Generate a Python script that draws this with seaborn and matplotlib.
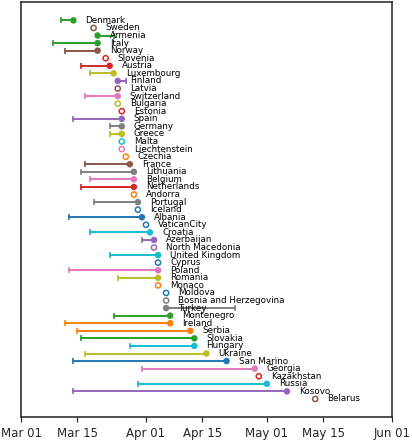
import matplotlib
matplotlib.use('Agg')
import matplotlib.pyplot as plt
import matplotlib.dates as mdates
import pandas as pd
import seaborn as sns

# countries in plotting order, first and last measure dates (None = single date only)
countries = ['Denmark', 'Sweden', 'Armenia', 'Italy', 'Norway', 'Slovenia', 'Austria',
             'Luxembourg', 'Finland', 'Latvia', 'Switzerland', 'Bulgaria', 'Estonia',
             'Spain', 'Germany', 'Greece', 'Malta', 'Liechtenstein', 'Czechia', 'France',
             'Lithuania', 'Belgium', 'Netherlands', 'Andorra', 'Portugal', 'Iceland',
             'Albania', 'VaticanCity', 'Croatia', 'Azerbaijan', 'North Macedonia',
             'United Kingdom', 'Cyprus', 'Poland', 'Romania', 'Monaco', 'Moldova',
             'Bosnia and Herzegovina', 'Turkey', 'Montenegro', 'Ireland', 'Serbia',
             'Slovakia', 'Hungary', 'Ukraine', 'San Marino', 'Georgia', 'Kazakhstan',
             'Russia', 'Kosovo', 'Belarus']
start = ['03-11', None, '03-24', '03-09', '03-12', None, '03-16', '03-18', '03-27', None,
         '03-17', None, None, '03-14', '03-23', '03-23', None, None, None, '03-17',
         '03-16', '03-18', '03-16', None, '03-19', None, '03-13', None, '03-18', '03-31',
         None, '03-23', None, '03-13', '03-25', None, None, None, '04-23', '03-24',
         '03-12', '03-15', '03-16', '03-28', '03-17', '03-14', '03-31', None, '03-30',
         '03-14', None]
end = ['03-14', '03-19', '03-20', '03-20', '03-20', '03-22', '03-23', '03-24', '03-25',
       '03-25', '03-25', '03-25', '03-26', '03-26', '03-26', '03-26', '03-26', '03-26',
       '03-27', '03-28', '03-29', '03-29', '03-29', '03-29', '03-30', '03-30', '03-31',
       '04-01', '04-02', '04-03', '04-03', '04-04', '04-04', '04-04', '04-04', '04-04',
       '04-06', '04-06', '04-06', '04-07', '04-07', '04-12', '04-13', '04-13', '04-16',
       '04-21', '04-28', '04-29', '05-01', '05-06', '05-13']
colors = ['C2', 'C5', 'C2', 'C2', 'C5', 'C3', 'C3', 'C8', 'C4', 'C5', 'C6', 'C8', 'C3',
          'C4', 'C7', 'C8', 'C9', 'C6', 'C1', 'C5', 'C7', 'C6', 'C3', 'C1', 'C7', 'C0',
          'C0', 'C0', 'C9', 'C4', 'C4', 'C9', 'C0', 'C6', 'C8', 'C1', 'C0', 'C7', 'C7',
          'C2', 'C1', 'C1', 'C2', 'C9', 'C8', 'C0', 'C6', 'C3', 'C9', 'C4', 'C5']

df = pd.DataFrame({
    'country': countries,
    'start': pd.to_datetime(['2020-' + s if s else None for s in start]),
    'end': pd.to_datetime(['2020-' + e for e in end]),
    'color': colors,
})
df['y'] = range(len(df))

sns.set_style('ticks')
plt.rcParams['font.family'] = ['DejaVu Sans']
fig, ax = plt.subplots(figsize=(4.12, 4.40), dpi=100)
fig.subplots_adjust(left=0.051, right=0.951, top=0.995, bottom=0.052)

ranged = df[df['start'].notna()]
single = df[df['start'].isna()]

# lines from first to last date, with a bar marker at the start
for _, r in ranged.iterrows():
    ax.plot([r['start'], r['end']], [r['y'], r['y']], color=r['color'], lw=1.4, zorder=1)
    ax.plot(r['start'], r['y'], marker='|', color=r['color'], ms=4.5, mew=1.2, zorder=2)

palette = dict(zip(df['country'], df['color']))
sns.scatterplot(data=ranged, x='end', y='y', hue='country', palette=palette,
                s=22, linewidth=0, legend=False, ax=ax, zorder=3)
ax.scatter(single['end'], single['y'], s=14, facecolors='none',
           edgecolors=single['color'].tolist(), linewidths=1.1, zorder=3)

for _, r in df.iterrows():
    ax.text(r['end'] + pd.Timedelta(days=3), r['y'], r['country'],
            va='center', ha='left', fontsize=6.3, color='black')

ax.set_xlim(pd.Timestamp('2020-03-01'), pd.Timestamp('2020-06-01'))
ax.set_ylim(len(df) - 1 + 2.4, -2.4)
ax.xaxis.set_major_locator(mdates.DayLocator(bymonthday=[1, 15]))
ax.xaxis.set_major_formatter(mdates.DateFormatter('%b %d'))
ax.set_yticks([])
ax.set_xlabel('')
ax.set_ylabel('')
ax.tick_params(axis='x', labelsize=8.5, length=3.5, color='#222222')
for sp in ax.spines.values():
    sp.set_color('#222222')
    sp.set_linewidth(1.1)

fig.savefig('out.png', dpi=100)
